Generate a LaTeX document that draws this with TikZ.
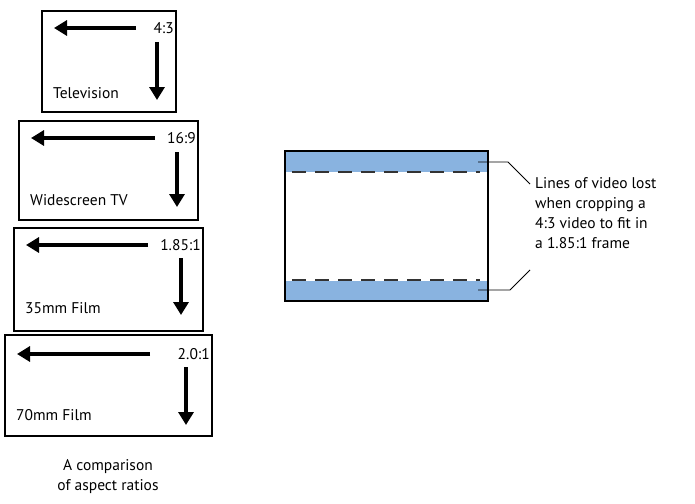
\documentclass[tikz,border=0pt]{standalone}
\usepackage{fontspec}
\setmainfont{PT Sans}
\usetikzlibrary{arrows.meta}
\definecolor{cropblue}{RGB}{137,179,224}
\begin{document}
\begin{tikzpicture}[x=1pt,y=-1pt,font=\fontsize{15.5}{20}\selectfont,
  frame/.style={draw,line width=2.6pt},
  arr/.style={line width=3.6pt,-{Triangle[length=13pt,width=15pt]}}]
\useasboundingbox (0,0) rectangle (695,503);
% four screen formats
\foreach \xa/\ya/\xb/\yb/\ha/\hy/\vx/\vt/\vb/\rat/\nm/\ny in {
  42/11/176/112/136/28/157/42/100/4:3/Television/93,
  19/121/198/220/155/138/177/152/207/16:9/Widescreen TV/200,
  14/228/203/331/148/245/181/258/315/1.85:1/35mm Film/308,
  5/335/212/436/150/354/186/367/425/2.0:1/70mm Film/415}{
  \draw[frame] (\xa,\ya) rectangle (\xb,\yb);
  \draw[arr] (\ha,\hy) -- (\xa+12,\hy);
  \node[anchor=east,inner sep=0pt] at (\xb-2,\hy) {\rat};
  \draw[arr] (\vx,\vt) -- (\vx,\vb);
  \node[anchor=west,inner sep=0pt] at (\xa+11,\ny) {\nm};
}
\node[align=center,inner sep=0pt] (cap) at (108,477) {A comparison\\of aspect ratios};
% cropped frame
\fill[cropblue] (285,151) rectangle (488,172);
\fill[cropblue] (285,281) rectangle (488,301);
\draw[dash pattern=on 14pt off 9pt,line width=1.6pt,black!80] (292,172) -- (480,172);
\draw[dash pattern=on 14pt off 9pt,line width=1.6pt,black!80] (292,280) -- (480,280);
\draw[frame] (285,151) rectangle (488,301);
\coordinate (top) at (478,162);
\coordinate (bot) at (478,290);
\draw[line width=0.9pt] (top) -- (508,162) -- (530,184);
\draw[line width=0.9pt] (bot) -- (510,290) -- (530,270);
\node[anchor=north west,align=left,inner sep=0pt] (lost) at (535,177)
  {Lines of video lost\\when cropping a\\4:3 video to fit in\\a 1.85:1 frame};
\end{tikzpicture}
\end{document}
